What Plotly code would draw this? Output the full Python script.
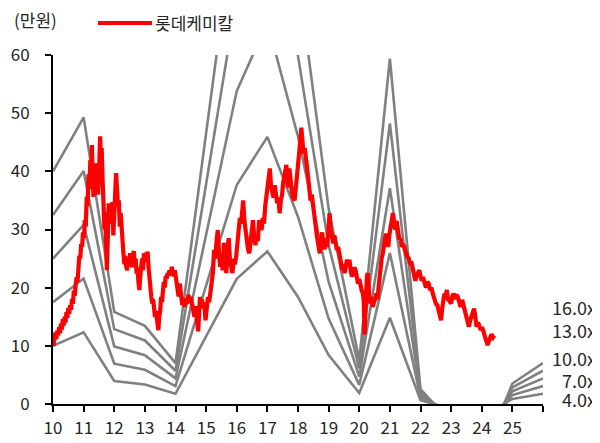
import plotly.graph_objects as go

# ---------------- data ----------------
# EPS (만원) per year vertex of the PER band
eps_years = [10, 11, 12, 13, 14, 16, 17, 18, 19, 20, 21, 22, 23, 24, 25, 26]
eps_vals = [2.5, 3.08, 0.99, 0.84, 0.44, 5.38, 6.56, 4.6, 2.1, 0.47, 3.71, 0.16, -0.2, -0.59, 0.22, 0.44]
multiples = [4.0, 7.0, 10.0, 13.0, 16.0]
band_labels = ["4.0x", "7.0x", "10.0x", "13.0x", "16.0x"]

# 롯데케미칼 price (만원)
price_pts = [
    (10.00, 10.5), (10.02, 10.0), (10.04, 12.0), (10.06, 11.0), (10.08, 12.3), (10.11, 11.2), (10.14, 12.6),
    (10.17, 11.8), (10.20, 13.2), (10.23, 12.2), (10.26, 13.8), (10.29, 12.8), (10.32, 14.6), (10.35, 13.5),
    (10.38, 15.0), (10.41, 14.0), (10.44, 15.8), (10.47, 14.8), (10.50, 16.5), (10.53, 15.5), (10.56, 17.0),
    (10.59, 16.2), (10.62, 18.0), (10.65, 17.2), (10.68, 19.5), (10.71, 18.6), (10.74, 20.5), (10.77, 21.8),
    (10.80, 21.0), (10.83, 23.5), (10.86, 25.5), (10.89, 25.0), (10.92, 27.5), (10.95, 27.0), (10.98, 29.5),
    (11.01, 28.5), (11.04, 31.6), (11.07, 30.5), (11.10, 35.6), (11.13, 34.0), (11.16, 39.5), (11.19, 37.0),
    (11.22, 42.0), (11.25, 39.0), (11.27, 44.5), (11.30, 38.5), (11.32, 35.6), (11.35, 39.0), (11.38, 36.0),
    (11.41, 41.4), (11.44, 37.5), (11.47, 36.0), (11.50, 39.5), (11.54, 46.0), (11.56, 42.0), (11.59, 44.0),
    (11.62, 38.5), (11.65, 35.6), (11.68, 30.0), (11.70, 33.0), (11.73, 26.0), (11.76, 23.0), (11.79, 29.0),
    (11.82, 34.5), (11.85, 31.0), (11.88, 34.5), (11.91, 32.0), (11.94, 34.7), (11.97, 29.0), (12.00, 33.0),
    (12.03, 36.5), (12.06, 39.7), (12.09, 37.0), (12.12, 34.0), (12.15, 35.0), (12.18, 30.5), (12.21, 32.8),
    (12.24, 29.4), (12.27, 27.0), (12.30, 25.9), (12.33, 24.0), (12.36, 25.5), (12.39, 23.6), (12.42, 23.0),
    (12.45, 25.0), (12.48, 24.0), (12.52, 25.9), (12.55, 24.5), (12.58, 23.5), (12.61, 25.5), (12.64, 26.3),
    (12.67, 24.0), (12.70, 25.0), (12.73, 22.4), (12.76, 23.5), (12.79, 21.0), (12.82, 19.6), (12.85, 22.0),
    (12.88, 23.6), (12.91, 25.0), (12.94, 23.0), (12.97, 25.9), (13.00, 24.5), (13.03, 26.0), (13.06, 25.0),
    (13.09, 26.2), (13.12, 23.5), (13.15, 21.0), (13.18, 19.0), (13.21, 18.4), (13.24, 17.3), (13.27, 18.0),
    (13.30, 16.5), (13.33, 15.0), (13.36, 16.0), (13.39, 14.0), (13.42, 13.3), (13.44, 12.7), (13.47, 15.0),
    (13.50, 16.0), (13.53, 18.4), (13.56, 17.5), (13.59, 19.5), (13.62, 21.0), (13.65, 20.0), (13.68, 22.0),
    (13.71, 21.5), (13.74, 22.5), (13.77, 22.0), (13.80, 23.0), (13.84, 22.2), (13.88, 23.6), (13.91, 22.5),
    (13.94, 22.0), (13.98, 23.0), (14.02, 21.5), (14.06, 20.0), (14.10, 18.5), (14.14, 20.7), (14.18, 18.0),
    (14.22, 17.0), (14.26, 18.2), (14.30, 16.7), (14.34, 18.0), (14.38, 17.2), (14.42, 18.8), (14.46, 17.5),
    (14.50, 18.4), (14.54, 17.0), (14.58, 16.3), (14.62, 15.0), (14.66, 16.8), (14.70, 14.0), (14.74, 12.5),
    (14.77, 15.5), (14.80, 18.4), (14.83, 17.0), (14.86, 18.0), (14.90, 16.5), (14.94, 17.5), (14.98, 14.4),
    (15.02, 16.0), (15.06, 18.4), (15.10, 17.5), (15.14, 19.5), (15.18, 21.0), (15.22, 22.5), (15.26, 26.5),
    (15.30, 25.0), (15.34, 28.0), (15.38, 29.9), (15.42, 26.0), (15.46, 23.6), (15.50, 25.5), (15.54, 23.0),
    (15.58, 27.7), (15.62, 25.0), (15.66, 22.5), (15.70, 27.0), (15.74, 28.5), (15.78, 24.5), (15.82, 23.0),
    (15.86, 22.5), (15.90, 25.0), (15.94, 24.0), (15.98, 25.3), (16.02, 28.0), (16.06, 29.9), (16.10, 32.0),
    (16.14, 31.0), (16.18, 34.0), (16.21, 35.0), (16.25, 31.5), (16.29, 29.9), (16.33, 27.6), (16.37, 26.5),
    (16.41, 25.9), (16.45, 28.5), (16.49, 30.5), (16.53, 31.6), (16.57, 28.5), (16.61, 27.3), (16.65, 29.0),
    (16.69, 28.0), (16.73, 31.6), (16.77, 30.5), (16.81, 29.9), (16.85, 32.0), (16.89, 31.0), (16.93, 34.0),
    (16.97, 36.2), (17.00, 38.0), (17.04, 38.5), (17.08, 40.5), (17.12, 37.5), (17.16, 36.8), (17.20, 35.5),
    (17.24, 37.6), (17.28, 36.5), (17.32, 34.5), (17.36, 35.5), (17.40, 32.8), (17.44, 35.0), (17.48, 36.0),
    (17.51, 37.8), (17.55, 39.0), (17.59, 40.0), (17.62, 41.1), (17.66, 38.5), (17.69, 37.2), (17.72, 40.5),
    (17.76, 38.0), (17.80, 36.5), (17.84, 35.5), (17.89, 35.0), (17.93, 37.2), (17.97, 39.0), (18.00, 41.0),
    (18.04, 43.5), (18.08, 45.5), (18.11, 47.5), (18.14, 45.0), (18.18, 43.0), (18.22, 44.0), (18.26, 41.0),
    (18.30, 40.5), (18.33, 39.0), (18.37, 37.0), (18.41, 35.0), (18.45, 36.0), (18.49, 34.0), (18.54, 32.2),
    (18.58, 30.0), (18.62, 28.8), (18.66, 27.5), (18.71, 25.9), (18.75, 28.0), (18.79, 29.5), (18.83, 27.5),
    (18.87, 26.6), (18.91, 28.5), (18.95, 27.0), (18.99, 29.5), (19.03, 32.8), (19.07, 30.0), (19.11, 29.0),
    (19.15, 27.6), (19.19, 29.0), (19.23, 27.0), (19.27, 26.5), (19.31, 27.0), (19.36, 26.0), (19.40, 24.5),
    (19.44, 23.0), (19.48, 24.0), (19.52, 22.5), (19.56, 23.5), (19.60, 24.8), (19.64, 24.0), (19.68, 24.8),
    (19.72, 23.0), (19.76, 21.9), (19.80, 22.5), (19.84, 23.5), (19.88, 23.0), (19.92, 21.5), (19.96, 20.7),
    (20.00, 21.5), (20.04, 20.0), (20.08, 19.5), (20.12, 19.0), (20.15, 17.5), (20.17, 11.9), (20.19, 15.5),
    (20.22, 21.2), (20.25, 22.0), (20.28, 22.5), (20.31, 19.5), (20.34, 17.3), (20.37, 18.5), (20.40, 17.5),
    (20.44, 16.7), (20.48, 17.5), (20.52, 18.0), (20.56, 19.0), (20.60, 18.0), (20.63, 20.0), (20.66, 21.9),
    (20.70, 23.5), (20.73, 25.0), (20.77, 25.9), (20.80, 27.5), (20.84, 28.5), (20.87, 29.3), (20.91, 28.0),
    (20.95, 27.0), (20.98, 29.0), (21.02, 30.5), (21.06, 31.5), (21.10, 32.8), (21.14, 31.0), (21.18, 30.0),
    (21.22, 31.5), (21.27, 29.0), (21.31, 28.3), (21.35, 28.5), (21.39, 27.0), (21.43, 27.5), (21.48, 26.5),
    (21.53, 25.9), (21.57, 25.3), (21.62, 25.0), (21.66, 24.0), (21.70, 24.5), (21.75, 23.0), (21.79, 22.5),
    (21.83, 21.2), (21.87, 22.0), (21.92, 22.8), (21.96, 23.0), (22.00, 22.0), (22.04, 21.2), (22.08, 21.8),
    (22.13, 20.5), (22.18, 20.0), (22.22, 21.0), (22.27, 20.7), (22.31, 19.6), (22.36, 20.0), (22.40, 19.0),
    (22.45, 17.9), (22.50, 17.3), (22.55, 17.0), (22.60, 16.0), (22.64, 15.0), (22.67, 14.4), (22.71, 16.5),
    (22.75, 19.0), (22.78, 19.0), (22.82, 18.5), (22.86, 19.6), (22.90, 18.0), (22.95, 17.5), (23.00, 17.3),
    (23.04, 18.5), (23.08, 19.0), (23.13, 18.0), (23.17, 18.8), (23.22, 18.4), (23.26, 17.5), (23.31, 16.7),
    (23.36, 17.9), (23.40, 17.0), (23.45, 16.0), (23.49, 15.0), (23.54, 14.0), (23.58, 13.3), (23.63, 14.5),
    (23.67, 15.0), (23.71, 15.6), (23.75, 16.4), (23.79, 15.0), (23.83, 13.3), (23.88, 14.0), (23.92, 13.5),
    (23.97, 12.7), (24.01, 13.2), (24.06, 12.2), (24.10, 11.5), (24.15, 11.0), (24.19, 10.1), (24.23, 10.8),
    (24.28, 11.5), (24.32, 12.0), (24.37, 11.5), (24.41, 11.8),
]
price_x = [p[0] for p in price_pts]
price_y = [p[1] for p in price_pts]

x_tickvals = list(range(10, 27))
x_ticktext = [str(v) for v in range(10, 26)] + [""]
y_tickvals = [0, 10, 20, 30, 40, 50, 60]

FONT = "Noto Sans CJK KR"
TXT = "#262626"

fig = go.Figure()

for m in multiples:
    fig.add_trace(go.Scatter(
        x=eps_years, y=[m * e for e in eps_vals], mode="lines",
        line=dict(color="#808080", width=2.6), showlegend=False, hoverinfo="skip"))

fig.add_trace(go.Scatter(
    x=price_x, y=price_y, mode="lines", name="롯데케미칼",
    line=dict(color="#FF0000", width=4.2), showlegend=False))

# page body adds an 8px offset, so the figure is 8px smaller and margins shifted
fig.update_layout(
    width=592, height=435,
    margin=dict(l=45, r=57, t=47, b=39, autoexpand=False),
    paper_bgcolor="white", plot_bgcolor="white",
    font=dict(family=FONT, size=17, color=TXT),
    xaxis=dict(range=[10, 26], tickvals=x_tickvals, ticktext=x_ticktext, automargin=False,
               showgrid=False, zeroline=False, showline=True, linecolor="black", linewidth=2,
               ticks="outside", ticklen=6, tickwidth=2, tickcolor="black",
               ticklabelstandoff=2, tickfont=dict(size=17, color=TXT)),
    yaxis=dict(range=[0, 60], tickvals=y_tickvals, automargin=False,
               showgrid=False, zeroline=False, showline=True, linecolor="black", linewidth=2,
               ticks="outside", ticklen=6, tickwidth=2, tickcolor="black",
               ticklabelstandoff=12, tickfont=dict(size=17, color=TXT)),
)

PW, PH = 490.0, 349.0
legend_y = 1 + 32 / PH

# unit label and legend
fig.add_annotation(text="(만원)", xref="paper", yref="paper", x=(12 - 53) / PW, y=1 + 35 / PH,
                   xanchor="left", yanchor="middle", showarrow=False, font=dict(size=17, color=TXT))
fig.add_shape(type="line", xref="paper", yref="paper", x0=(98 - 53) / PW, x1=(152 - 53) / PW,
              y0=legend_y, y1=legend_y, line=dict(color="#FF0000", width=4))
fig.add_annotation(text="롯데케미칼", xref="paper", yref="paper", x=(153 - 53) / PW, y=legend_y,
                   xanchor="left", yanchor="middle", showarrow=False, font=dict(size=17, color=TXT))

# band labels on the right
label_y = {"16.0x": 307, "13.0x": 330, "10.0x": 358, "7.0x": 380, "4.0x": 399}
for lab in band_labels:
    py = label_y[lab]
    fig.add_annotation(text=lab, xref="paper", yref="paper", x=(598 - 53) / PW, y=(404 - py) / PH,
                       xanchor="right", yanchor="middle", showarrow=False, font=dict(size=18, color=TXT))

fig.write_html("out.html")
